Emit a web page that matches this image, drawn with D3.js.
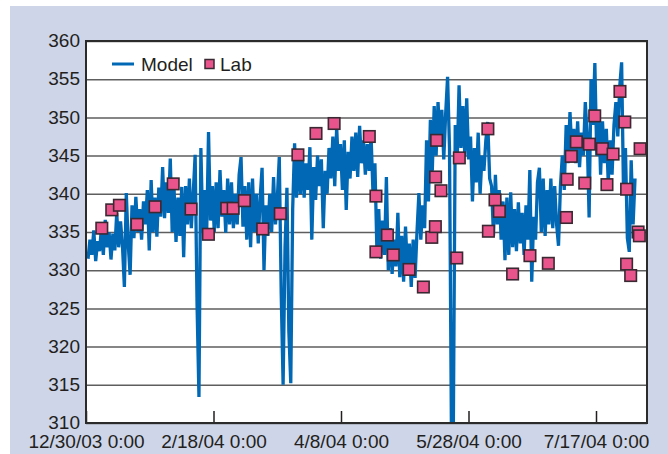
<!DOCTYPE html>
<html>
<head>
<meta charset="utf-8">
<script src="https://cdn.jsdelivr.net/npm/d3@7/dist/d3.min.js"></script>
<style>
  html, body { margin: 0; padding: 0; background: #ffffff; }
  svg { display: block; }
  text { font-family: "Liberation Sans", Arial, sans-serif; fill: #231f20; }
</style>
</head>
<body>
<div id="chart"></div>
<script>
// ---------- DATA ----------
const yTickValues = [310, 315, 320, 325, 330, 335, 340, 345, 350, 355, 360];
const xTickDays = [0, 50, 100, 150, 200];
const xTickLabels = ["12/30/03 0:00", "2/18/04 0:00", "4/8/04 0:00", "5/28/04 0:00", "7/17/04 0:00"];
const seriesNames = ["Model", "Lab"];

// Model: samples every modelStepDay days starting at modelStartDay (days after 12/30/03)
const modelStartDay = 0.8;
const modelStepDay = 0.75;
const modelValues = [
  331.5, 334.0, 332.0, 335.2, 331.2, 333.8, 332.5,
  335.5, 332.0, 336.6, 333.0, 335.0, 331.4, 334.8, 332.6,
  337.5, 333.0, 336.4, 333.2,
  327.8, 340.1, 333.5, 329.4,
  338.5, 334.2, 339.6, 335.0, 338.0, 334.0, 339.0,
  336.0, 340.5, 332.6, 341.8, 335.0, 339.5, 334.4, 340.8,
  337.0, 343.5, 336.8, 341.5, 337.5, 344.6,
  335.0, 340.5, 333.7, 339.5, 334.5, 340.9, 331.7,
  341.0, 336.0, 342.0, 335.5, 340.0,
  345.1, 325.5, 313.4, 346.0,
  335.0, 340.5, 334.4, 348.1, 336.5, 341.0, 335.0,
  341.5, 335.5, 343.1, 337.0, 340.5, 334.9, 342.0, 336.0, 341.5, 335.5, 340.0,
  336.0, 342.5, 344.8, 335.7, 341.0,
  334.0, 341.5, 333.0, 342.0, 335.0, 340.0, 333.5, 339.5,
  343.4, 330.0,
  338.5, 334.5, 340.0, 335.0, 342.2, 336.0, 339.5,
  344.8, 327.0, 315.0, 333.0, 340.8, 322.0, 315.2, 338.0,
  346.6, 339.5, 345.0,
  340.0, 345.5, 339.5, 344.0, 340.5, 346.1, 334.0, 343.5, 339.2, 345.0, 341.0, 344.5, 335.5, 343.0, 340.0, 346.0,
  342.0, 347.5, 341.0, 348.7, 343.0, 346.5, 340.5, 347.0, 337.9, 345.5, 342.0,
  347.5, 343.0, 348.0, 342.2, 348.9, 344.0, 347.0, 342.5, 346.5, 343.0, 347.5,
  340.0, 344.0, 333.0,
  338.0, 331.5, 336.5, 332.0, 342.2,
  330.0, 335.5, 329.5, 334.0, 330.5, 337.5, 329.1,
  334.5, 328.5, 335.7, 330.0, 333.5, 327.8, 334.0, 329.0,
  335.0, 340.1, 334.0, 338.5, 335.5,
  347.0, 339.0, 349.7, 343.0,
  351.5, 345.0, 352.0, 347.0, 351.0, 344.5, 350.5, 355.3,
  346.0, 309.0, 309.0, 349.0, 344.0, 354.2,
  346.0, 351.5, 345.0, 352.5, 344.5,
  347.5, 339.0, 346.0, 341.5, 348.0, 340.0,
  345.0, 343.0, 347.0, 349.4, 342.0,
  341.0, 334.5, 342.5, 336.0, 340.5, 334.0, 339.0, 331.3,
  339.5, 332.0, 340.2, 333.0, 338.0,
  332.5, 338.9, 333.5, 337.5, 332.0, 338.5, 334.0,
  343.1, 328.5, 337.0,
  334.0, 341.5, 343.4, 335.0, 342.0, 334.5, 340.5, 336.0,
  342.0, 335.5, 341.0, 336.0, 333.2,
  341.0, 345.0, 340.5,
  349.0, 344.0, 350.7, 345.5, 348.5,
  344.0, 349.5, 343.5, 348.0, 345.0,
  352.0, 347.5, 336.9, 355.0, 349.0, 357.1,
  345.0, 351.0, 342.5, 349.5, 344.0,
  348.5, 341.5, 347.0, 342.5, 349.0,
  352.0, 347.5, 354.0, 357.2,
  340.0, 346.0, 334.2, 332.4, 344.4, 336.0, 342.0
];

// Lab samples: day offset after 12/30/03 and value
const labDays = [6.2, 10.1, 13.1, 20.0, 27.1, 34.2, 41.2, 48.0, 55.2, 57.7,
  62.1, 69.3, 76.2, 83.1, 90.2, 97.3, 111.1, 113.7, 113.7, 118.2,
  120.5, 126.7, 132.3, 135.6, 137.0, 137.1, 139.2, 137.5, 145.4, 146.4,
  157.6, 157.8, 160.4, 162.1, 167.3, 174.1, 181.3, 188.4, 188.7, 190.3,
  192.3, 195.6, 197.4, 199.5, 202.5, 204.3, 206.7, 209.4, 211.3, 212.0,
  212.0, 213.6, 216.5, 217.0, 217.3];
const labValues = [335.5, 337.9, 338.5, 336.0, 338.3, 341.3, 338.0, 334.7, 338.1, 338.1,
  339.1, 335.4, 337.4, 345.1, 347.9, 349.2, 347.5, 339.7, 332.4, 334.6,
  332.0, 330.1, 327.8, 334.3, 335.7, 342.2, 340.4, 347.0, 331.6, 344.7,
  348.5, 335.1, 339.2, 337.7, 329.5, 331.9, 330.9, 336.9, 341.9, 344.9,
  346.8, 341.4, 346.5, 350.2, 345.9, 341.2, 345.2, 353.4, 349.4, 340.6,
  330.8, 329.3, 335.0, 334.5, 345.9];

// ---------- CHART ----------
const W = 668, H = 454;
const plot = { left: 86, top: 41, right: 647, bottom: 423 };
const blue = "#0068b4", pink = "#e8548b", sqStroke = "#3a2832";
const fs = "19px";

const svg = d3.select("#chart").append("svg").attr("width", W).attr("height", H);

svg.append("rect").attr("x", 10).attr("y", 6).attr("width", W - 10).attr("height", H - 6).attr("fill", "#ced5e8");
svg.append("rect").attr("x", plot.left).attr("y", plot.top)
  .attr("width", plot.right - plot.left).attr("height", plot.bottom - plot.top).attr("fill", "#ffffff");

const x = d3.scaleLinear().domain([0, 220]).range([plot.left, plot.right]);
const y = d3.scaleLinear().domain([310, 360]).range([plot.bottom, plot.top]);

// gridlines
const grid = svg.append("g").attr("transform", `translate(${plot.left},0)`)
  .call(d3.axisLeft(y).tickValues(yTickValues).tickSize(-(plot.right - plot.left)).tickFormat(""));
grid.select(".domain").remove();
grid.selectAll("line").attr("stroke", "#5e5e5e").attr("stroke-width", 1.5);

// y labels
const yAx = svg.append("g").attr("transform", `translate(${plot.left},0)`)
  .call(d3.axisLeft(y).tickValues(yTickValues).tickSize(0).tickPadding(6).tickFormat(d3.format("d")));
yAx.select(".domain").remove();
yAx.selectAll("text").attr("font-size", fs).attr("dy", "0.3em").attr("font-family", null);

// x axis
const xAx = svg.append("g").attr("transform", `translate(0,${plot.bottom})`)
  .call(d3.axisBottom(x).tickValues(xTickDays).tickSize(-12).tickPadding(12)
    .tickFormat((d, i) => xTickLabels[i]));
xAx.select(".domain").remove();
xAx.selectAll("line").attr("stroke", "#231f20").attr("stroke-width", 1.5);
xAx.selectAll("text").attr("font-size", fs).attr("font-family", null);

// clip
svg.append("clipPath").attr("id", "clip").append("rect")
  .attr("x", plot.left).attr("y", plot.top).attr("width", plot.right - plot.left).attr("height", plot.bottom - plot.top);

const modelData = modelValues.map((v, i) => ({ day: modelStartDay + i * modelStepDay, v }));
const line = d3.line().x(d => x(d.day)).y(d => y(d.v));
svg.append("path").datum(modelData).attr("clip-path", "url(#clip)")
  .attr("d", line).attr("fill", "none").attr("stroke", blue).attr("stroke-width", 3.3)
  .attr("stroke-linejoin", "miter").attr("stroke-miterlimit", 2);

const labData = labDays.map((d, i) => ({ day: d, v: labValues[i] }));
const sq = 11.5;
svg.append("g").selectAll("rect").data(labData).join("rect")
  .attr("x", d => x(d.day) - sq / 2).attr("y", d => y(d.v) - sq / 2)
  .attr("width", sq).attr("height", sq)
  .attr("fill", pink).attr("stroke", sqStroke).attr("stroke-width", 1.6);

// frame
svg.append("rect").attr("x", plot.left).attr("y", plot.top)
  .attr("width", plot.right - plot.left).attr("height", plot.bottom - plot.top)
  .attr("fill", "none").attr("stroke", "#2b2b2b").attr("stroke-width", 2);

// legend
const lg = svg.append("g");
lg.append("line").attr("x1", 112).attr("x2", 134).attr("y1", 64).attr("y2", 64)
  .attr("stroke", blue).attr("stroke-width", 3);
lg.append("text").attr("x", 141).attr("y", 71).attr("font-size", fs).text(seriesNames[0]);
lg.append("rect").attr("x", 205).attr("y", 59.5).attr("width", 9).attr("height", 9)
  .attr("fill", pink).attr("stroke", sqStroke).attr("stroke-width", 1.5);
lg.append("text").attr("x", 220).attr("y", 71).attr("font-size", fs).text(seriesNames[1]);
</script>
</body>
</html>
